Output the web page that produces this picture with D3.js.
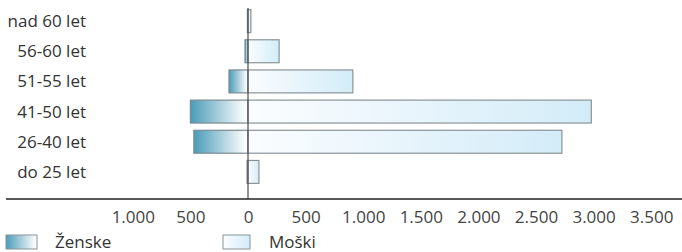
<!DOCTYPE html>
<html lang="sl">
<head>
<meta charset="utf-8" />
<title>Starostna struktura</title>
<script src="https://cdn.jsdelivr.net/npm/d3@7"></script>
<style>
    body { margin: 0; background: #fff; }
    text { font-family: "Open Sans", "Noto Sans", sans-serif; fill: #333; }
    .x-axis path, .x-axis line { stroke: none; }
    .x-axis text { font-size: 17px; fill: #444; font-family: "Open Sans", "Noto Sans", sans-serif; }
</style>
</head>
<body>
<script>

    // data
    let groups = ['nad 60 let', '56-60 let', '51-55 let', '41-50 let', '26-40 let', 'do 25 let'];
    let zenske = [5, 26, 165, 500, 470, 8];
    let moski = [25, 270, 910, 2980, 2725, 95];
    let tickValues = [-1000, -500, 0, 500, 1000, 1500, 2000, 2500, 3000, 3500];
    let legendLabels = ['Ženske', 'Moški'];

    let width = 682, height = 252;

    let svg = d3.select('body')
        .append('svg')
        .attr('width', width)
        .attr('height', height);

    let defs = svg.append('defs');

    let gF = defs.append('linearGradient').attr('id', 'gradF').attr('x1', '0%').attr('x2', '100%');
    gF.append('stop').attr('offset', '0%').attr('stop-color', '#4a9cb8');
    gF.append('stop').attr('offset', '90%').attr('stop-color', '#f4f8fa');
    gF.append('stop').attr('offset', '100%').attr('stop-color', '#ffffff');

    let gM = defs.append('linearGradient').attr('id', 'gradM').attr('x1', '0%').attr('x2', '100%');
    gM.append('stop').attr('offset', '0%').attr('stop-color', '#fbfdff');
    gM.append('stop').attr('offset', '100%').attr('stop-color', '#d3ecf8');

    let x = d3.scaleLinear()
        .domain([-1000, 3500])
        .range([132.8, 651.2]);

    let y = d3.scaleBand()
        .domain(groups)
        .range([6, 187])
        .paddingInner(0.24)
        .paddingOuter(0.12);

    let rows = groups.map((g, i) => ({ group: g, f: zenske[i], m: moski[i] }));

    // female bars (left of zero)
    svg.selectAll('.bar-f')
        .data(rows)
        .enter().append('rect')
        .attr('class', 'bar-f')
        .attr('x', d => x(-d.f))
        .attr('y', d => y(d.group))
        .attr('width', d => Math.max(1, x(0) - x(-d.f)))
        .attr('height', y.bandwidth())
        .style('fill', 'url(#gradF)')
        .style('stroke', '#7d8a90')
        .style('stroke-width', 1.2);

    // male bars (right of zero)
    svg.selectAll('.bar-m')
        .data(rows)
        .enter().append('rect')
        .attr('class', 'bar-m')
        .attr('x', x(0))
        .attr('y', d => y(d.group))
        .attr('width', d => x(d.m) - x(0))
        .attr('height', y.bandwidth())
        .style('fill', 'url(#gradM)')
        .style('stroke', '#8a9398')
        .style('stroke-width', 1.2);

    // category labels
    svg.selectAll('.cat')
        .data(groups)
        .enter().append('text')
        .attr('class', 'cat')
        .attr('x', 86)
        .attr('y', d => y(d) + y.bandwidth() / 2)
        .attr('dy', '0.35em')
        .attr('text-anchor', 'end')
        .style('font-size', '17px')
        .text(d => d);

    // zero line
    svg.append('line')
        .attr('x1', x(0)).attr('x2', x(0))
        .attr('y1', 8).attr('y2', 199)
        .style('stroke', '#4a4a4a')
        .style('stroke-width', 1.2);

    // baseline
    svg.append('line')
        .attr('x1', 6).attr('x2', width)
        .attr('y1', 199).attr('y2', 199)
        .style('stroke', '#222')
        .style('stroke-width', 1.5);

    let fmt = d3.formatLocale({ decimal: ',', thousands: '.', grouping: [3], currency: ['', ' €'] }).format(',');

    let xAxis = d3.axisBottom(x)
        .tickValues(tickValues)
        .tickSize(0)
        .tickPadding(0)
        .tickFormat(d => fmt(Math.abs(d)));

    svg.append('g')
        .attr('class', 'x-axis')
        .attr('transform', 'translate(0,211)')
        .call(xAxis);

    // legend
    let legend = svg.selectAll('.legend')
        .data(legendLabels)
        .enter().append('g')
        .attr('class', 'legend')
        .attr('transform', (d, i) => `translate(${i === 0 ? 6 : 223},235)`);

    legend.append('rect')
        .attr('width', (d, i) => i === 0 ? 31 : 27)
        .attr('height', 14)
        .style('fill', (d, i) => i === 0 ? 'url(#gradF)' : 'url(#gradM)')
        .style('stroke', '#8a9398')
        .style('stroke-width', 1);

    legend.append('text')
        .attr('x', (d, i) => i === 0 ? 49 : 46)
        .attr('y', 7)
        .attr('dy', '0.35em')
        .style('font-size', '17px')
        .text(d => d);

</script>
</body>
</html>
